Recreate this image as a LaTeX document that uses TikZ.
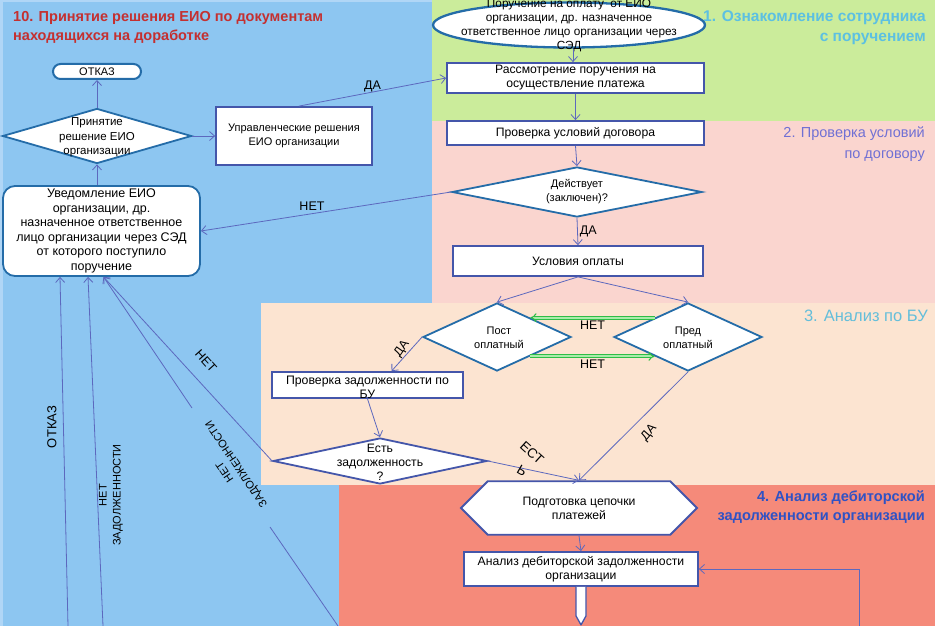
\documentclass[tikz,border=0pt]{standalone}
\usepackage{fontspec}
\setmainfont{Liberation Sans}
\usetikzlibrary{arrows.meta,shapes.geometric,shapes.misc}
\definecolor{bgblue}{RGB}{141,198,241}
\definecolor{bgblueL}{RGB}{176,214,246}
\definecolor{bggreen}{RGB}{203,236,155}
\definecolor{bgpink}{RGB}{250,213,207}
\definecolor{bgpeach}{RGB}{252,228,209}
\definecolor{bgred}{RGB}{245,138,122}
\definecolor{boxline}{RGB}{68,86,170}
\definecolor{dialine}{RGB}{36,108,168}
\definecolor{conncol}{RGB}{92,104,190}
\definecolor{titlered}{RGB}{196,48,48}
\definecolor{tcyan}{RGB}{92,192,226}
\definecolor{tviolet}{RGB}{112,112,212}
\definecolor{tteal}{RGB}{100,190,218}
\definecolor{tblue}{RGB}{48,82,196}
\definecolor{dgreen}{RGB}{46,190,70}
\definecolor{lgreen}{RGB}{170,235,170}
\tikzset{
  box/.style={rectangle, draw=boxline, line width=1.8pt, fill=white, inner sep=0pt, align=center},
  dia/.style={diamond, draw=dialine, line width=1.8pt, fill=white, inner sep=0pt},
  txt/.style={align=center, inner sep=0pt},
  big/.style={font=\fontsize{12.2}{14}\selectfont},
  conn/.style={draw=conncol, line width=0.8pt, -{Straight Barb[length=5pt,width=9pt]}},
  plain/.style={draw=conncol, line width=0.8pt},
  garrow/.style={draw=dgreen, line width=1.1pt, double=lgreen, double distance=1.8pt, -{Implies}},
  lbl/.style={font=\fontsize{12.5}{14}\selectfont, inner sep=1pt},
  sect/.style={anchor=north east, align=right, inner sep=0pt},
}
\begin{document}
\begin{tikzpicture}[x=1pt,y=-1pt,font=\fontsize{11}{14}\selectfont]
\path[use as bounding box] (0,0) rectangle (935,626);
% backgrounds
\fill[bgblue] (0,0) rectangle (935,626);
\fill[bgblueL] (0,0) rectangle (2.5,626);
\fill[bgblueL] (0,0) rectangle (432,2.5);
\fill[bggreen] (432,0) rectangle (935,121);
\fill[bgpink] (432,121) rectangle (935,303);
\fill[bgpeach] (261,303) rectangle (935,485);
\fill[bgred] (339,485) rectangle (935,626);
% section titles
\node[anchor=north west, align=left, inner sep=0pt, text=titlered, font=\fontsize{14.5}{19}\selectfont\bfseries] (t10) at (13,11) {10. Принятие решения ЕИО по документам\\находящихся на доработке};
\node[sect, text=tcyan, font=\fontsize{15.5}{20}\selectfont\bfseries] (t1) at (926,10) {1. Ознакомление сотрудника\\с поручением};
\node[sect, text=tviolet, font=\fontsize{14.5}{21}\selectfont] (t2) at (925,127) {2. Проверка условий\\по договору};
\node[sect, text=tteal, font=\fontsize{16.5}{18}\selectfont] (t3) at (928,310) {3. Анализ по БУ};
\node[sect, text=tblue, font=\fontsize{14.6}{19}\selectfont\bfseries] (t4) at (925,490) {4. Анализ дебиторской\\задолженности организации};
% right column nodes
\node[ellipse, draw=dialine, line width=2.3pt, fill=white, minimum width=272pt, minimum height=45pt, inner sep=0pt] (ell) at (569,25) {};
\node[txt, font=\fontsize{11.8}{14}\selectfont] (ellT) at (569,26) {Поручение на оплату~ от ЕИО\\организации, др. назначенное\\ответственное лицо организации через\\СЭД};
\node[box, big, minimum width=257pt, minimum height=30pt] (ras) at (575.5,78) {Рассмотрение поручения на\\осуществление платежа};
\node[box, big, minimum width=257pt, minimum height=24pt] (prov) at (575.5,133) {Проверка условий договора};
\node[dia, minimum width=250pt, minimum height=50pt] (deyst) at (577,192) {};
\node[txt] (deystT) at (577,192) {Действует\\(заключен)?};
\node[box, big, minimum width=250pt, minimum height=30pt] (usl) at (578,261) {Условия оплаты};
\node[dia, minimum width=148pt, minimum height=68pt] (post) at (497,337) {};
\node[txt] (postT) at (499,338) {Пост\\оплатный};
\node[dia, minimum width=148pt, minimum height=68pt] (pred) at (688,337) {};
\node[txt] (predT) at (688,338) {Пред\\оплатный};
\node[box, minimum width=191pt, minimum height=26pt] (pzbu) at (367.5,385) {};
\node[txt, font=\fontsize{12.3}{14}\selectfont] (pzbuT) at (367.5,387) {Проверка задолженности по\\БУ};
\node[diamond, draw=boxline, line width=1.8pt, fill=white, inner sep=0pt, minimum width=214pt, minimum height=46pt] (est) at (380,461) {};
\node[txt, big] (estT) at (380,462) {Есть\\задолженность\\?};
\node[chamfered rectangle, chamfered rectangle xsep=17pt, chamfered rectangle ysep=15.5pt, draw=boxline, line width=1.8pt, fill=white, inner sep=0pt, align=center, minimum width=236pt, minimum height=31pt, big] (podg) at (579,508) {Подготовка цепочки\\платежей};
\node[box, big, minimum width=234pt, minimum height=34pt] (anal) at (581,569) {Анализ дебиторской задолженности\\организации};
% left column nodes
\node[rounded rectangle, draw=dialine, line width=2pt, fill=white, inner sep=1pt, minimum width=90pt, minimum height=15pt] (otkaz) at (97,71.5) {ОТКАЗ};
\node[dia, minimum width=189pt, minimum height=55pt] (prin) at (97,136) {};
\node[txt, font=\fontsize{11.5}{14.5}\selectfont] (prinT) at (97,137.5) {Принятие\\решение ЕИО\\организации};
\node[box, minimum width=156pt, minimum height=58pt] (upr) at (294,136) {Управленческие решения\\ЕИО организации};
\node[rectangle, rounded corners=12pt, draw=dialine, line width=1.8pt, fill=white, inner sep=0pt, align=center, minimum width=197pt, minimum height=90pt, font=\fontsize{12.5}{14.6}\selectfont] (uved) at (101.5,231) {Уведомление ЕИО\\организации, др.\\назначенное ответственное\\лицо организации через СЭД\\от которого поступило\\поручение};
% connectors
\draw[conn] ([xshift=4pt]ell.south) -- ([xshift=4pt]ell.south |- ras.north);
\draw[conn] (ras.south) -- (prov.north);
\draw[conn] (prov.south) -- (deyst.north);
\draw[conn] (deyst.south) -- node[lbl, right=1pt] (lDA1) {ДА} (usl.north);
\draw[conn] (deyst.west) -- node[lbl, above=2pt, pos=0.556] (lNET1) {НЕТ} (uved.east);
\draw[conn] (usl.south) -- (post.north);
\draw[conn] (usl.south) -- (pred.north);
\draw[garrow] (pred.150) -- node[lbl, below=2pt] (lNET2) {НЕТ} (post.30);
\draw[garrow] (post.-30) -- node[lbl, below=2pt] (lNET3) {НЕТ} (pred.-150);
\draw[conn] (post.west) -- ([xshift=24pt]pzbu.north);
\node[lbl, rotate=55] (lDA2) at (402,349) {ДА};
\draw[conn] (pzbu.south) -- (est.north);
\draw[conn] (est.east) -- (podg.north);
\node[lbl, rotate=-42, inner sep=0pt, font=\fontsize{13.5}{14}\selectfont] (lEST) at (532,453) {ЕСТ};
\node[lbl, rotate=-30, inner sep=0pt, font=\fontsize{13.5}{14}\selectfont] (lESTb) at (522,471) {Ь};
\draw[conn] (pred.south) -- (podg.north);
\node[lbl, rotate=49] (lDA3) at (649,433) {ДА};
\draw[conn] (podg.south) -- (anal.north);
\draw[conn] (est.west) -- ([xshift=2pt]uved.south);
\node[lbl, rotate=-48] (lNET4) at (206,361) {НЕТ};
\coordinate (fNZ) at (338,626);
\coordinate (gA) at (270,527);
\coordinate (gB) at (192,408);
\node[inner sep=0pt, rotate=124, align=center, font=\fontsize{11}{14}\selectfont] (lNZ) at (231.2,467.5) {НЕТ\\ЗАДОЛЖЕННОСТИ};
\draw[plain] (fNZ) -- (gA);
\draw[conn] (gB) -- ([xshift=2pt]uved.south);
\coordinate (fOTK) at (68,626);
\draw[conn] (fOTK) -- ([xshift=-41.5pt]uved.south);
\node[lbl, rotate=90, font=\fontsize{13}{14}\selectfont] (lOTK) at (52,427) {ОТКАЗ};
\coordinate (fNZ2) at (103,626);
\draw[conn] (fNZ2) -- ([xshift=-13.5pt]uved.south);
\node[rotate=90, align=center, inner sep=0pt, font=\fontsize{11}{14}\selectfont] (lNZ2) at (111,495) {НЕТ\\ЗАДОЛЖЕННОСТИ};
\draw[conn] (uved.north -| prin.south) -- (prin.south);
\draw[conn] (prin.north) -- (otkaz.south);
\draw[conn] (prin.east) -- (upr.west);
\draw[conn] ([xshift=5pt]upr.north) -- node[lbl, above=-1pt] (lDA4) {ДА} (ras.west);
\coordinate (fLoop) at (859,626);
\draw[conn] (fLoop) |- (anal.east);
\draw[draw=boxline, line width=1.3pt, fill=white, line join=round] ([xshift=-5pt]anal.south) -- ++(0,29) -- ++(5,9) -- ++(5,-9) -- ++(0,-29);
\end{tikzpicture}
\end{document}
